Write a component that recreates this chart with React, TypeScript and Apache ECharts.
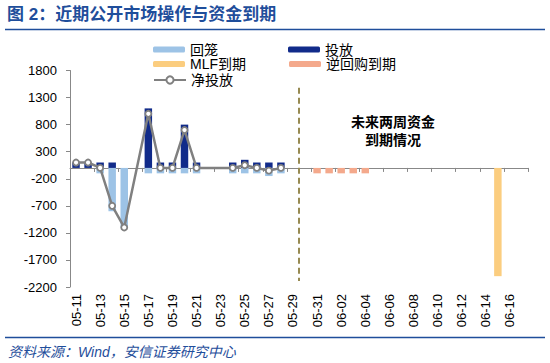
import React, { useEffect, useRef } from "react";
import * as echarts from "echarts";

const categories = [
  "05-11", "05-12", "05-13", "05-14", "05-15", "05-16", "05-17", "05-18", "05-19", "05-20",
  "05-21", "05-22", "05-23", "05-24", "05-25", "05-26", "05-27", "05-28", "05-29", "05-30",
  "05-31", "06-01", "06-02", "06-03", "06-04", "06-05", "06-06", "06-07", "06-08", "06-09",
  "06-10", "06-11", "06-12", "06-13", "06-14", "06-15", "06-16", "06-17",
];

const N = null;
// 回笼
const huilong = [N, N, -100, -800, -1100, N, -100, -100, -100, -100, -100, N, N, -100, -100, -100, -150, -100, N, N, N, N, N, N, N, N, N, N, N, N, N, N, N, N, N, N, N, N];
// 投放
const toufang = [100, 100, 100, 100, N, N, 1100, 100, 100, 800, 100, N, N, 100, 150, 100, 100, 100, N, N, N, N, N, N, N, N, N, N, N, N, N, N, N, N, N, N, N, N];
// MLF到期
const mlf = [N, N, N, N, N, N, N, N, N, N, N, N, N, N, N, N, N, N, N, N, N, N, N, N, N, N, N, N, N, N, N, N, N, N, N, -2000, N, N];
// 逆回购到期
const nihuigou = [N, N, N, N, N, N, N, N, N, N, N, N, N, N, N, N, N, N, N, N, -100, -100, -100, -100, -100, N, N, N, N, N, N, N, N, N, N, N, N, N];
// 净投放
const net = [100, 100, 0, -700, -1100, N, 1000, 0, 0, 700, 0, N, N, 0, 50, 0, -50, 0, N, N, N, N, N, N, N, N, N, N, N, N, N, N, N, N, N, N, N, N];

const yMin = -2200;
const yMax = 1800;
const yStep = 500;

const dividerAfter = "05-29";
const dividerBefore = "05-30";
const dividerTop = 1480;
const dividerBottom = -2090;

const FONT = "'Liberation Sans', Arial, 'Noto Sans CJK SC', sans-serif";
const BLUE = "#1f4e9b";

export default function App() {
  const ref = useRef<HTMLDivElement>(null);
  useEffect(() => {
    if (!ref.current) return;
    const chart = echarts.init(ref.current, null, { renderer: "svg" });
    const legendBase = (name: string, left: number, top: number, h = 6) => ({
      data: [name],
      left,
      top,
      padding: 0,
      itemWidth: 32,
      itemHeight: h,
      itemGap: 5,
      textStyle: { fontSize: 14, color: "#000", fontFamily: FONT },
    });
    const option: any = {
      animation: false,
      backgroundColor: "#fff",
      title: {
        text: "图 2：近期公开市场操作与资金到期",
        left: 7,
        top: 6,
        padding: 0,
        textStyle: { fontSize: 17, fontWeight: "bold", color: BLUE, fontFamily: FONT },
      },
      legend: [
        legendBase("回笼", 153, 42.5),
        legendBase("投放", 288, 42.5),
        legendBase("MLF到期", 153, 57),
        legendBase("逆回购到期", 289, 57),
        legendBase("净投放", 153, 73, 9),
      ],
      grid: { left: 70, right: 22, top: 70.5, bottom: 76, containLabel: false },
      xAxis: [
        {
          type: "category",
          data: categories,
          position: "bottom",
          boundaryGap: true,
          axisLine: { show: true, onZero: true, lineStyle: { color: "#888", width: 1 } },
          axisTick: { show: true, interval: 1, length: 4, lineStyle: { color: "#888" } },
          axisLabel: { show: false, interval: 1 },
          splitLine: { show: false },
        },
        {
          type: "category",
          data: categories,
          position: "bottom",
          boundaryGap: true,
          axisLine: { show: false, onZero: false },
          axisTick: { show: false },
          axisLabel: {
            show: true,
            interval: 1,
            rotate: 90,
            margin: 7,
            fontSize: 13,
            color: "#000",
            fontFamily: FONT,
          },
          splitLine: { show: false },
        },
      ],
      yAxis: {
        type: "value",
        min: yMin,
        max: yMax,
        interval: yStep,
        axisLine: { show: true, lineStyle: { color: "#888", width: 1 } },
        axisTick: { show: true, length: 4, lineStyle: { color: "#888" } },
        axisLabel: {
          fontSize: 13,
          color: "#000",
          margin: 13,
          fontFamily: FONT,
          formatter: (v: number) => String(v),
        },
        splitLine: { show: false },
      },
      series: [
        {
          name: "回笼",
          type: "bar",
          stack: "a",
          barWidth: "62%",
          data: huilong,
          itemStyle: { color: "#9dc3e6" },
        },
        {
          name: "投放",
          type: "bar",
          stack: "a",
          barWidth: "62%",
          data: toufang,
          itemStyle: { color: "#112b8a" },
        },
        {
          name: "MLF到期",
          type: "bar",
          stack: "a",
          barWidth: "62%",
          data: mlf,
          itemStyle: { color: "#fbcd7f" },
        },
        {
          name: "逆回购到期",
          type: "bar",
          stack: "a",
          barWidth: "62%",
          data: nihuigou,
          itemStyle: { color: "#f4a98c" },
        },
        {
          name: "净投放",
          type: "line",
          data: net,
          connectNulls: true,
          symbol: "circle",
          symbolSize: 6,
          z: 5,
          lineStyle: { color: "#808080", width: 2.5 },
          itemStyle: { color: "#fff", borderColor: "#808080", borderWidth: 1.8 },
        },
      ],
      graphic: [
        {
          type: "line",
          id: "titleRule",
          shape: { x1: 5, y1: 29.5, x2: 545, y2: 29.5 },
          style: { stroke: BLUE, lineWidth: 1.5 },
        },
        {
          type: "line",
          id: "footRule",
          shape: { x1: 5, y1: 337.5, x2: 545, y2: 337.5 },
          style: { stroke: BLUE, lineWidth: 1.5 },
        },
        {
          type: "text",
          id: "foot",
          x: 8,
          y: 352,
          style: {
            text: "资料来源：Wind，安信证券研究中心",
            fontSize: 14,
            fontStyle: "italic",
            fill: BLUE,
            fontFamily: FONT,
            verticalAlign: "middle",
          },
        },
        {
          type: "text",
          id: "note",
          x: 393,
          y: 131,
          style: {
            text: "未来两周资金\n到期情况",
            fontSize: 14,
            fontWeight: "bold",
            lineHeight: 18.5,
            fill: "#000",
            align: "center",
            verticalAlign: "middle",
            fontFamily: FONT,
          },
        },
      ],
    };
    chart.setOption(option);
    const a = chart.convertToPixel({ xAxisIndex: 0, yAxisIndex: 0 } as any, [dividerAfter, dividerTop]) as number[];
    const b = chart.convertToPixel({ xAxisIndex: 0, yAxisIndex: 0 } as any, [dividerBefore, dividerBottom]) as number[];
    const x = (a[0] + b[0]) / 2;
    chart.setOption({
      graphic: [
        {
          type: "line",
          id: "divider",
          shape: { x1: x, y1: a[1], x2: x, y2: b[1] },
          style: { stroke: "#978a52", lineWidth: 2, lineDash: [6, 4] },
          z: 10,
        },
      ],
    });
    return () => chart.dispose();
  }, []);
  return (
    <div
      ref={ref}
      style={{ position: "fixed", left: 0, top: 0, width: 550, height: 363, background: "#fff" }}
    />
  );
}
